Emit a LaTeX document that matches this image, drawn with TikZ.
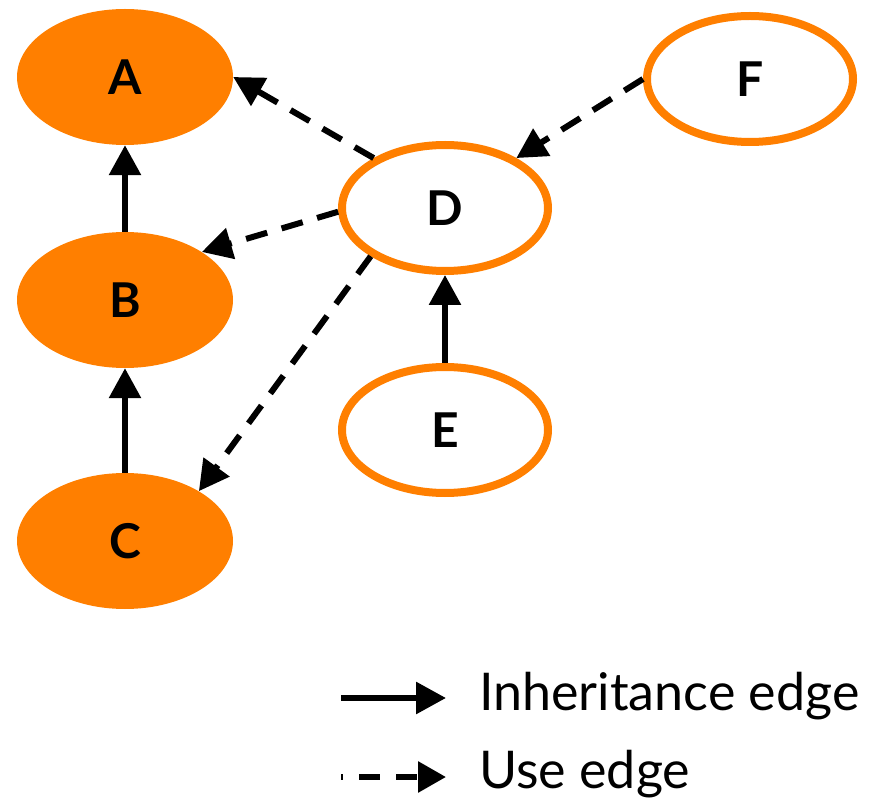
\documentclass[tikz,border=0pt]{standalone}
\usepackage{fontspec}
\setmainfont{Lato}
\usetikzlibrary{arrows.meta,shapes.geometric}
\definecolor{classorange}{HTML}{FF7F00}
\begin{document}
\begin{tikzpicture}[x=1pt,y=-1pt,
  filledclass/.style={ellipse,fill=classorange,inner sep=0pt,
    minimum width=216pt,minimum height=136pt,
    font=\fontsize{48}{52}\selectfont\bfseries},
  openclass/.style={ellipse,draw=classorange,line width=8pt,fill=white,inner sep=0pt,
    minimum width=206pt,minimum height=126pt,
    font=\fontsize{48}{52}\selectfont\bfseries},
  inherit/.style={line width=6pt,-{Triangle[length=30pt,width=31pt]}},
  uses/.style={line width=6pt,dash pattern=on 22pt off 15pt,-{Triangle[length=30pt,width=31pt]}},
  legendtext/.style={anchor=base west,inner sep=0pt,font=\fontsize{52}{56}\selectfont}]
\useasboundingbox (0,0) rectangle (881,799);

% classes
\node[filledclass] (A) at (125,77) {A};
\node[filledclass] (B) at (125,300) {B};
\node[filledclass] (C) at (125,541) {C};
\node[openclass] (D) at (445,208) {D};
\node[openclass] (E) at (445,430) {E};
\node[openclass] (F) at (750,79) {F};

% inheritance edges
\draw[inherit] (B.north) -- (A.south);
\draw[inherit] (C.north) -- (B.south);
\draw[inherit] (E.north) -- (D.south);

% use edges
\draw[uses] (D.145) -- (A.east);
\draw[uses] (D.182) -- (B.32);
\draw[uses] (D.213) -- (C.34);
\draw[uses] (F.180) -- (D.35);

% legend
\coordinate (l1s) at (341,698);
\coordinate (l1e) at (446,698);
\coordinate (l2s) at (341,777);
\coordinate (l2e) at (446,777);
\draw[inherit] (l1s) -- (l1e);
\draw[line width=6pt,dash pattern=on 21pt off 16pt,dash phase=19pt,
  -{Triangle[length=28pt,width=30pt]}] (l2s) -- (l2e);
\node[legendtext] (t1) at (479,710) {Inheritance edge};
\node[legendtext] (t2) at (479,788) {Use edge};
\end{tikzpicture}
\end{document}
